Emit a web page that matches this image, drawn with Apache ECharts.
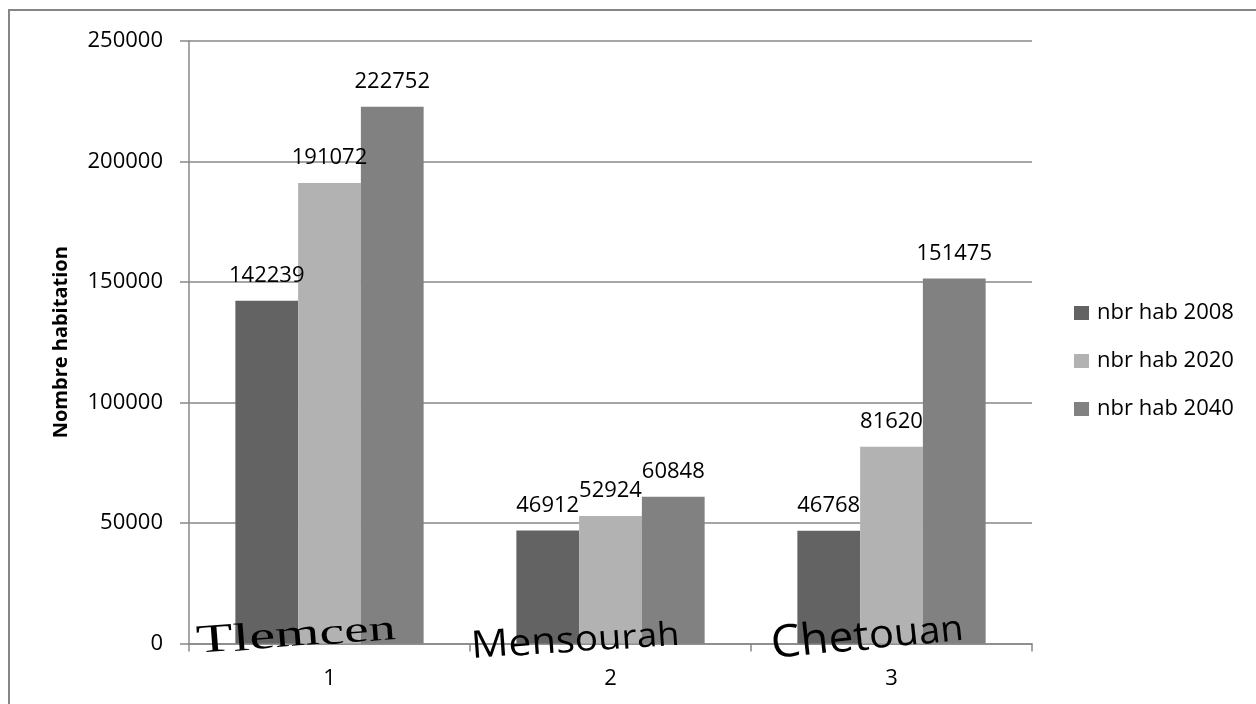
<!DOCTYPE html>
<html>
<head>
<meta charset="utf-8">
<script src="https://cdn.jsdelivr.net/npm/echarts@6/dist/echarts.min.js"></script>
<style>
  html, body { margin: 0; padding: 0; background: #fff; }
  #chart { width: 1256px; height: 704px; }
</style>
</head>
<body>
<div id="chart"></div>
<script>
// Housing counts per commune (categories numbered 1..3 on the axis)
const categories = ['1', '2', '3'];
const communes = ['Tlemcen', 'Mensourah', 'Chetouan'];
const seriesNames = ['nbr hab 2008', 'nbr hab 2020', 'nbr hab 2040'];
const hab2008 = [142239, 46912, 46768];
const hab2020 = [191072, 52924, 81620];
const hab2040 = [222752, 60848, 151475];
const yMin = 0, yMax = 250000, yStep = 50000;

const FONT = '"Open Sans", "Noto Sans", sans-serif';
const colors = ['#636363', '#b2b2b2', '#818181'];
const axisGrey = '#888888';

const chart = echarts.init(document.getElementById('chart'), null, { renderer: 'canvas' });

function barSeries(name, data, color) {
  return {
    name: name,
    type: 'bar',
    data: data,
    barGap: '0%',
    barCategoryGap: '33%',
    itemStyle: { color: color },
    label: {
      show: true,
      position: 'top',
      distance: 14,
      color: '#000',
      fontFamily: FONT,
      fontSize: 22,
      lineHeight: 22
    },
    emphasis: { disabled: true },
    animation: false
  };
}

chart.setOption({
  animation: false,
  textStyle: { fontFamily: FONT },
  grid: { left: 189, top: 41, right: 224, bottom: 60.5 },
  legend: {
    orient: 'vertical',
    left: 1074,
    top: 302,
    padding: 0,
    itemWidth: 15,
    itemHeight: 14,
    itemGap: 26,
    icon: 'rect',
    selectedMode: false,
    data: seriesNames,
    textStyle: { fontFamily: FONT, fontSize: 22, lineHeight: 22, color: '#000', padding: [0, 0, 0, 3] }
  },
  xAxis: {
    type: 'category',
    data: categories,
    axisLine: { lineStyle: { color: axisGrey, width: 1.5 } },
    axisTick: { show: true, length: 8, lineStyle: { color: axisGrey, width: 1.5 } },
    axisLabel: { color: '#000', fontFamily: FONT, fontSize: 22, margin: 24 }
  },
  yAxis: {
    type: 'value',
    min: yMin,
    max: yMax,
    interval: yStep,
    name: 'Nombre habitation',
    nameLocation: 'middle',
    nameRotate: 90,
    nameGap: 118,
    nameTextStyle: { color: '#000', fontFamily: FONT, fontSize: 20, fontWeight: 'bold' },
    axisLine: { show: true, lineStyle: { color: axisGrey, width: 1.5 } },
    axisTick: { show: true, length: 9, lineStyle: { color: axisGrey, width: 1.5 } },
    axisLabel: {
      color: '#000', fontFamily: FONT, fontSize: 22, margin: 26,
      formatter: function (v) { return String(v); }
    },
    splitLine: { show: true, lineStyle: { color: axisGrey, width: 1.5 } }
  },
  series: [
    barSeries(seriesNames[0], hab2008, colors[0]),
    barSeries(seriesNames[1], hab2020, colors[1]),
    barSeries(seriesNames[2], hab2040, colors[2])
  ]
});

// Decorative arched commune names set under each group, laid out letter by letter
const wordArtStyle = [
  { family: '"Liberation Serif", "Times New Roman", serif', dx: -32, width: 199, b0: 20, b1: 5, s0: 40, s1: 36 },
  { family: FONT, dx: -34, width: 208, b0: 24, b1: 9, s0: 38, s1: 33 },
  { family: FONT, dx: -22, width: 192, b0: 26, b1: 5, s0: 45, s1: 36 }
];

const measureCtx = document.createElement('canvas').getContext('2d');
const axisY = chart.convertToPixel({ yAxisIndex: 0 }, 0);
const elements = [];

communes.forEach(function (word, k) {
  const st = wordArtStyle[k];
  const cx = chart.convertToPixel({ xAxisIndex: 0 }, categories[k]) + st.dx;
  const x0 = cx - st.width / 2;
  const n = word.length;
  const sizes = [], widths = [];
  let total = 0;
  for (let i = 0; i < n; i++) {
    const s = st.s0 + (st.s1 - st.s0) * (n > 1 ? i / (n - 1) : 0);
    measureCtx.font = s + 'px ' + st.family;
    const w = measureCtx.measureText(word[i]).width;
    sizes.push(s); widths.push(w); total += w;
  }
  const sx = st.width / total;
  const angle = Math.atan2(st.b0 - st.b1, st.width);
  let cum = 0;
  for (let i = 0; i < n; i++) {
    const left = x0 + cum * sx;
    const mid = left + widths[i] * sx / 2;
    const t = (mid - x0) / st.width;
    const base = axisY + st.b0 + (st.b1 - st.b0) * t;
    elements.push({
      type: 'text',
      x: left,
      y: base,
      rotation: angle,
      scaleX: sx,
      silent: true,
      z: 10,
      style: {
        text: word[i],
        font: sizes[i] + 'px ' + st.family,
        fill: '#000',
        align: 'left',
        verticalAlign: 'bottom',
        textAlign: 'left',
        textVerticalAlign: 'bottom'
      }
    });
    cum += widths[i];
  }
});

// Chart area frame
elements.push({
  type: 'rect',
  silent: true,
  shape: { x: 9, y: 10, width: 1400, height: 900 },
  style: { fill: 'none', stroke: '#868686', lineWidth: 2 }
});

chart.setOption({ graphic: { elements: elements } });
</script>
</body>
</html>
